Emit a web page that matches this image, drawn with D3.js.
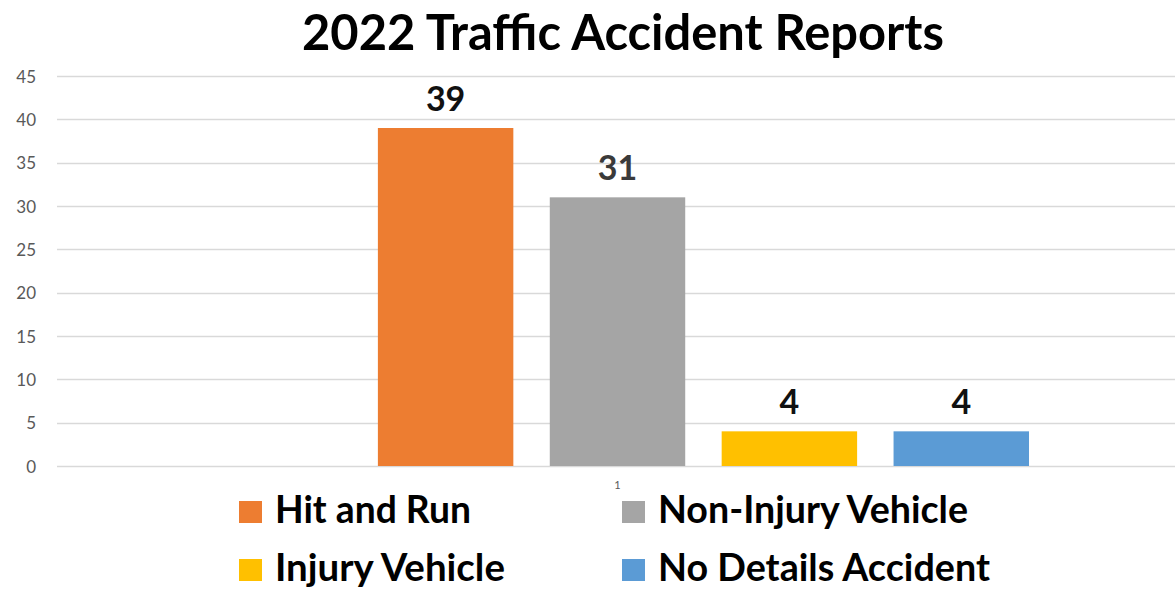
<!DOCTYPE html>
<html>
<head>
<meta charset="utf-8">
<script src="https://cdn.jsdelivr.net/npm/d3@7"></script>
<style>
  html, body { margin: 0; padding: 0; background: #fff; }
  svg { display: block; }
</style>
</head>
<body>
<svg id="chart" width="1175" height="589"></svg>
<script>
// ---- data ----
const title = "2022 Traffic Accident Reports";
const categories = ["1"];
const seriesNames = ["", "Hit and Run", "Non-Injury Vehicle", "Injury Vehicle", "No Details Accident"];
const seriesValues = [null, 39, 31, 4, 4];
const seriesColors = ["none", "#ED7D31", "#A5A5A5", "#FFC000", "#5B9BD5"];
const labelColors = ["#000", "#111111", "#3a3a3a", "#111111", "#111111"];
const yTicks = [0, 5, 10, 15, 20, 25, 30, 35, 40, 45];

const FONT = "Lato, 'Open Sans', 'DejaVu Sans', sans-serif";
const svg = d3.select("#chart");

const plot = { left: 57, right: 1178, top: 76, bottom: 466 };

const y = d3.scaleLinear().domain([0, 45]).range([plot.bottom, plot.top]);
const x0 = d3.scaleBand().domain(categories).range([plot.left, plot.right]).paddingInner(0).paddingOuter(0);
const groupWidth = 823;
const x1 = d3.scaleBand().domain(d3.range(seriesNames.length))
  .range([0, groupWidth]).paddingInner(0.212).paddingOuter(0);

function fit(sel, targetWidth) {
  const node = sel.node();
  const fs = parseFloat(sel.attr("font-size"));
  const w = node.getComputedTextLength();
  sel.attr("font-size", (fs * targetWidth / w).toFixed(2));
  return sel;
}

// gridlines
const grid = svg.append("g");
grid.selectAll("line").data(yTicks).join("line")
  .attr("x1", plot.left).attr("x2", plot.right)
  .attr("y1", d => Math.round(y(d)) + 0.5).attr("y2", d => Math.round(y(d)) + 0.5)
  .attr("stroke", "#d9d9d9").attr("stroke-width", 1.3);

// y axis labels
const yAxis = svg.append("g").attr("transform", `translate(36,0)`)
  .call(d3.axisLeft(y).tickValues(yTicks).tickSize(0).tickPadding(0));
yAxis.select(".domain").remove();
yAxis.selectAll("text")
  .attr("font-family", FONT).attr("font-size", 17).attr("fill", "#595959")
  .attr("dy", "0.36em");

// x axis category label
const xAxis = svg.append("g").attr("transform", `translate(0,${plot.bottom + 15})`)
  .call(d3.axisBottom(x0).tickSize(0).tickPadding(0));
xAxis.select(".domain").remove();
xAxis.selectAll("text").attr("font-family", FONT).attr("font-size", 11).attr("fill", "#595959");

// bars
const groupStart = x0(categories[0]) + (x0.bandwidth() - groupWidth) / 2;
const g = svg.append("g").attr("transform", `translate(${groupStart},0)`);
const barData = seriesValues.map((v, i) => ({ i, v }));
g.selectAll("rect").data(barData.filter(d => d.v != null)).join("rect")
  .attr("x", d => x1(d.i)).attr("width", x1.bandwidth())
  .attr("y", d => y(d.v)).attr("height", d => y(0) - y(d.v))
  .attr("fill", d => seriesColors[d.i]);

// value labels
g.selectAll("text.val").data(barData.filter(d => d.v != null)).join("text")
  .attr("class", "val")
  .attr("x", d => x1(d.i) + x1.bandwidth() / 2)
  .attr("y", d => y(d.v) - 17)
  .attr("text-anchor", "middle")
  .attr("font-family", FONT).attr("font-weight", 700).attr("font-size", 34)
  .attr("fill", d => labelColors[d.i])
  .text(d => d.v);

// title
const t = svg.append("text").attr("x", 623).attr("y", 50).attr("text-anchor", "middle")
  .attr("font-family", FONT).attr("font-weight", 700).attr("font-size", 40).attr("fill", "#000")
  .text(title);
fit(t, 642);

// legend
const legendItems = seriesNames.map((n, i) => ({ n, i })).filter(d => d.n !== "");
const legPos = [
  { sx: 239, ty: 523 }, { sx: 622, ty: 523 },
  { sx: 239, ty: 581 }, { sx: 622, ty: 581 }
];
const legendWidths = [196, 310, 230, 332];
const leg = svg.append("g");
legendItems.forEach((d, k) => {
  const p = legPos[k];
  leg.append("rect").attr("x", p.sx).attr("y", p.ty - 22).attr("width", 23).attr("height", 22)
    .attr("fill", seriesColors[d.i]);
  const tx = leg.append("text").attr("x", p.sx + 36).attr("y", p.ty)
    .attr("font-family", FONT).attr("font-weight", 700).attr("font-size", 34).attr("fill", "#000")
    .text(d.n);
  fit(tx, legendWidths[k]);
});
</script>
</body>
</html>
